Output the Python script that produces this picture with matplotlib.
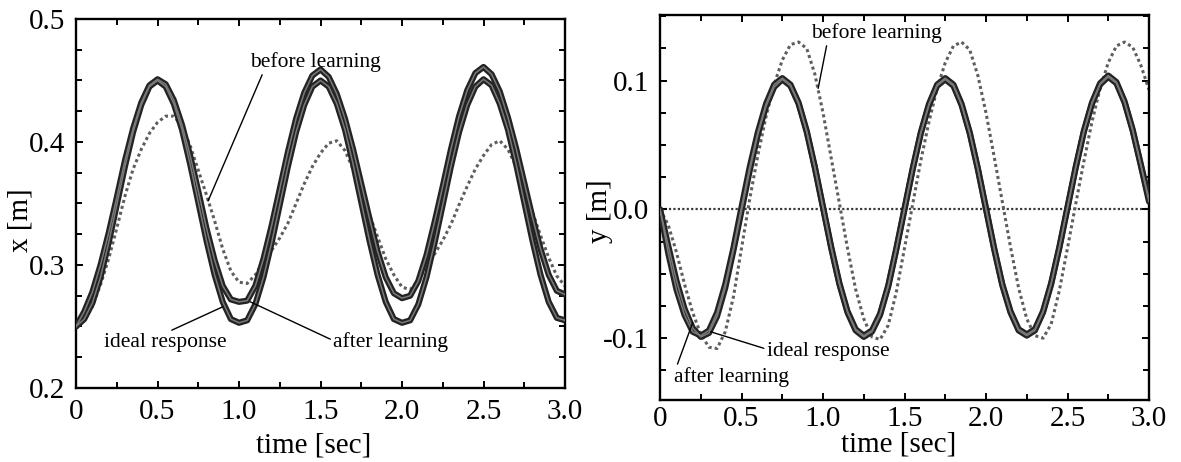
"""Trajectory tracking before/after learning: x and y responses over 3 s."""
import matplotlib
matplotlib.use("Agg")
import matplotlib.pyplot as plt
from matplotlib.ticker import MultipleLocator, FixedLocator

plt.rcParams["font.family"] = ["Liberation Serif", "DejaVu Serif"]

# sample times [sec]
t = [0.00, 0.05, 0.10, 0.15, 0.20, 0.25, 0.30, 0.35, 0.40, 0.45,
     0.50, 0.55, 0.60, 0.65, 0.70, 0.75, 0.80, 0.85, 0.90, 0.95,
     1.00, 1.05, 1.10, 1.15, 1.20, 1.25, 1.30, 1.35, 1.40, 1.45,
     1.50, 1.55, 1.60, 1.65, 1.70, 1.75, 1.80, 1.85, 1.90, 1.95,
     2.00, 2.05, 2.10, 2.15, 2.20, 2.25, 2.30, 2.35, 2.40, 2.45,
     2.50, 2.55, 2.60, 2.65, 2.70, 2.75, 2.80, 2.85, 2.90, 2.95,
     3.00]

# x [m]
x_ideal = [0.250, 0.256, 0.269, 0.290, 0.318, 0.349, 0.380, 0.408, 0.430, 0.445,
           0.450, 0.445, 0.431, 0.410, 0.382, 0.351, 0.320, 0.292, 0.270, 0.256,
           0.253, 0.255, 0.268, 0.290, 0.318, 0.349, 0.380, 0.408, 0.430, 0.445,
           0.450, 0.445, 0.431, 0.410, 0.382, 0.351, 0.320, 0.292, 0.270, 0.256,
           0.253, 0.255, 0.268, 0.290, 0.318, 0.349, 0.380, 0.408, 0.430, 0.445,
           0.451, 0.446, 0.431, 0.410, 0.382, 0.351, 0.320, 0.292, 0.270, 0.257,
           0.255]
x_after = [0.250, 0.262, 0.278, 0.300, 0.326, 0.355, 0.385, 0.411, 0.432, 0.446,
           0.451, 0.447, 0.434, 0.414, 0.389, 0.360, 0.330, 0.304, 0.283, 0.272,
           0.270, 0.271, 0.283, 0.305, 0.332, 0.362, 0.392, 0.419, 0.440, 0.454,
           0.459, 0.453, 0.439, 0.419, 0.394, 0.366, 0.338, 0.311, 0.290, 0.277,
           0.273, 0.275, 0.287, 0.308, 0.335, 0.364, 0.394, 0.421, 0.442, 0.456,
           0.461, 0.455, 0.441, 0.420, 0.395, 0.367, 0.339, 0.313, 0.292, 0.279,
           0.276]
x_before = [0.250, 0.255, 0.266, 0.284, 0.305, 0.330, 0.356, 0.378, 0.394, 0.407,
            0.416, 0.421, 0.421, 0.413, 0.397, 0.377, 0.357, 0.336, 0.313, 0.295,
            0.286, 0.285, 0.292, 0.303, 0.312, 0.322, 0.334, 0.350, 0.366, 0.380,
            0.391, 0.399, 0.401, 0.393, 0.378, 0.360, 0.341, 0.323, 0.305, 0.292,
            0.282, 0.280, 0.287, 0.299, 0.309, 0.320, 0.333, 0.349, 0.364, 0.378,
            0.389, 0.398, 0.401, 0.394, 0.380, 0.362, 0.343, 0.324, 0.306, 0.291,
            0.283]

# y [m]
y_ideal = [0.000, -0.028, -0.055, -0.077, -0.092, -0.099, -0.096, -0.083, -0.061, -0.032,
           -0.001, 0.030, 0.058, 0.080, 0.095, 0.101, 0.096, 0.082, 0.060, 0.032,
           0.001, -0.030, -0.058, -0.080, -0.094, -0.099, -0.095, -0.082, -0.060, -0.031,
           0.000, 0.031, 0.059, 0.081, 0.096, 0.101, 0.096, 0.081, 0.059, 0.031,
           0.000, -0.031, -0.059, -0.080, -0.094, -0.098, -0.094, -0.080, -0.058, -0.030,
           0.001, 0.032, 0.060, 0.082, 0.097, 0.103, 0.098, 0.083, 0.061, 0.034,
           0.006]
y_after = [0.000, -0.034, -0.062, -0.082, -0.095, -0.098, -0.094, -0.080, -0.058, -0.030,
           0.002, 0.033, 0.060, 0.082, 0.097, 0.102, 0.097, 0.083, 0.061, 0.033,
           0.002, -0.029, -0.057, -0.079, -0.093, -0.098, -0.094, -0.081, -0.059, -0.030,
           0.001, 0.032, 0.060, 0.082, 0.097, 0.102, 0.097, 0.082, 0.060, 0.032,
           0.001, -0.030, -0.058, -0.079, -0.093, -0.097, -0.093, -0.079, -0.057, -0.029,
           0.002, 0.033, 0.061, 0.083, 0.098, 0.104, 0.099, 0.084, 0.062, 0.035,
           0.008]
y_before = [0.000, -0.012, -0.033, -0.058, -0.080, -0.097, -0.107, -0.108, -0.095, -0.068,
            -0.030, 0.008, 0.042, 0.072, 0.097, 0.116, 0.128, 0.130, 0.125, 0.105,
            0.075, 0.040, 0.005, -0.030, -0.062, -0.085, -0.099, -0.101, -0.090, -0.064,
            -0.030, 0.004, 0.038, 0.068, 0.094, 0.114, 0.127, 0.130, 0.124, 0.104,
            0.075, 0.041, 0.006, -0.029, -0.061, -0.085, -0.098, -0.100, -0.089, -0.063,
            -0.030, 0.004, 0.037, 0.068, 0.094, 0.114, 0.127, 0.130, 0.126, 0.112,
            0.093]

x_ticks = [0, 0.5, 1.0, 1.5, 2.0, 2.5, 3.0]
x_ticklabels = ["0", "0.5", "1.0", "1.5", "2.0", "2.5", "3.0"]

TICK_FS = 21
NOTE_FS = 15.5


def solid(ax, ts, vs):
    # thick dark stroke with a lighter core, like a chain of small circles
    ax.plot(ts, vs, color="#232323", lw=4.4, solid_capstyle="round", zorder=3)
    ax.plot(ts, vs, color="#7a7a7a", lw=1.1, zorder=4)


def dotted(ax, ts, vs):
    ax.plot(ts, vs, color="#5e5e5e", lw=2.2, ls=(0, (1, 1)), zorder=2)


def note(ax, text, xy, xytext, relpos):
    ax.annotate(text, xy=xy, xytext=xytext, fontsize=NOTE_FS,
                ha="center", va="center",
                arrowprops=dict(arrowstyle="-", lw=1.0, color="black",
                                shrinkA=0, shrinkB=0, relpos=relpos),
                zorder=6)


def style(ax, xpad):
    for s in ax.spines.values():
        s.set_linewidth(1.7)
    ax.set_xlim(0, 3.0)
    ax.xaxis.set_major_locator(FixedLocator(x_ticks))
    ax.set_xticklabels(x_ticklabels)
    ax.xaxis.set_minor_locator(MultipleLocator(0.25))
    ax.tick_params(which="both", direction="in", top=True, right=True,
                   labelsize=TICK_FS, width=1.4)
    ax.tick_params(which="major", length=5, pad=8)
    ax.tick_params(axis="x", which="major", pad=xpad)
    ax.tick_params(which="minor", length=4)


fig = plt.figure(figsize=(11.81, 4.62), dpi=100)

# ---------------------------------------------------------------- x
ax1 = fig.add_axes([0.0644, 0.1602, 0.4140, 0.7987])
dotted(ax1, t, x_before)
solid(ax1, t, x_ideal)
solid(ax1, t, x_after)
style(ax1, xpad=8)
ax1.set_ylim(0.2, 0.5)
ax1.yaxis.set_major_locator(FixedLocator([0.2, 0.3, 0.4, 0.5]))
ax1.set_yticklabels(["0.2", "0.3", "0.4", "0.5"])
ax1.yaxis.set_minor_locator(MultipleLocator(0.025))
ax1.set_ylabel("x [m]", fontsize=TICK_FS)
ax1.yaxis.set_label_coords(-0.088, 0.455)
ax1.set_xlabel("time [sec]", fontsize=TICK_FS)
ax1.xaxis.set_label_coords(0.485, -0.12)
note(ax1, "before learning", xy=(0.81, 0.352), xytext=(1.47, 0.465),
     relpos=(0.1, 0.0))
note(ax1, "ideal response", xy=(0.90, 0.266), xytext=(0.55, 0.237),
     relpos=(0.5, 1.0))
note(ax1, "after learning", xy=(1.07, 0.270), xytext=(1.93, 0.237),
     relpos=(0.0, 0.6))

# ---------------------------------------------------------------- y
ax2 = fig.add_axes([0.5589, 0.1342, 0.4140, 0.8333])
ax2.axhline(0.0, color="#3a3a3a", lw=1.6, ls=(0, (1, 1)), zorder=1)
dotted(ax2, t, y_before)
solid(ax2, t, y_ideal)
solid(ax2, t, y_after)
style(ax2, xpad=4)
ax2.set_ylim(-0.148, 0.151)
ax2.yaxis.set_major_locator(FixedLocator([-0.1, 0.0, 0.1]))
ax2.set_yticklabels(["-0.1", "0.0", "0.1"])
ax2.yaxis.set_minor_locator(MultipleLocator(0.025))
ax2.set_ylabel("y [m]", fontsize=TICK_FS)
ax2.yaxis.set_label_coords(-0.096, 0.49)
ax2.set_xlabel("time [sec]", fontsize=TICK_FS)
ax2.xaxis.set_label_coords(0.487, -0.083)
note(ax2, "before learning", xy=(0.97, 0.094), xytext=(1.33, 0.137),
     relpos=(0.12, 0.0))
note(ax2, "ideal response", xy=(0.31, -0.095), xytext=(1.03, -0.110),
     relpos=(0.0, 0.6))
note(ax2, "after learning", xy=(0.20, -0.088), xytext=(0.44, -0.130),
     relpos=(0.0, 0.7))

fig.savefig("out.png", dpi=100)
